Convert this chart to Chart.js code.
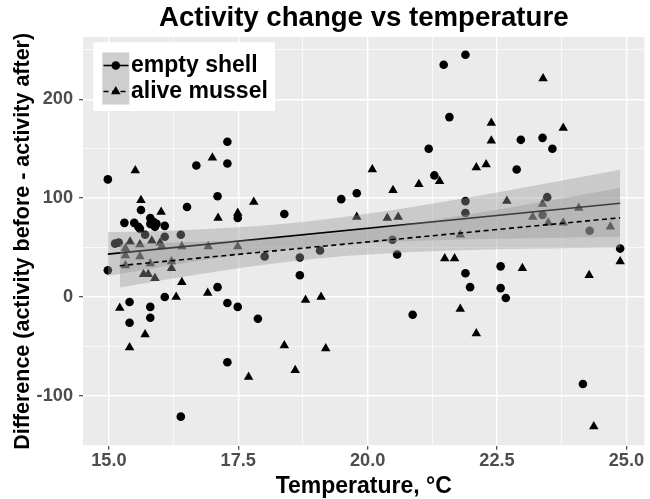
<!DOCTYPE html>
<html><head><meta charset="utf-8">
<script src="https://cdn.jsdelivr.net/npm/chart.js@4.4.1/dist/chart.umd.min.js"></script>
<style>html,body{margin:0;padding:0;background:#fff;}canvas{display:block;}</style>
</head><body>
<canvas id="c" width="650" height="499"></canvas>
<script>
const chartTitle = 'Activity change vs temperature';
const xTitle = 'Temperature, °C';
const yTitle = 'Difference (activity before - activity after)';
const seriesNames = ['empty shell', 'alive mussel'];

// empty shell (circles)
const shellT = [14.98,14.98,15.12,15.19,15.30,15.49,15.57,15.60,15.62,15.80,15.80,15.86,15.92,15.89,16.08,15.70,16.08,16.39,16.51,16.69,17.10,17.29,17.29,17.49,18.01,16.08,17.10,17.29,17.49,17.88,15.40,15.80,15.80,15.40,17.29,16.39,18.39,18.69,18.69,19.08,19.49,19.79,20.48,20.57,20.87,21.18,21.29,21.47,21.58,21.89,21.89,21.89,21.89,21.98,22.57,22.57,22.67,22.88,22.96,23.38,23.57,23.47,23.38,24.29,24.16,24.88];
const shellV = [119,27,54,55,75,75,71,69,88,80,74,76,74,71,72,63,61,63,91,133,102,157,135,80,41,0,10,-6,-10,-22,-5,-10,-21,-26,-66,-121,84,40,22,47,99,105,58,43,-18,150,123,235,182,245,97,85,24,10,31,9,-1,129,159,161,150,101,83,67,-88,49];

// alive mussel (triangles)
const musselT = [15.51,15.62,16.01,17.00,17.11,17.49,17.80,15.41,15.60,15.83,15.99,16.02,16.41,16.92,17.49,15.32,15.60,15.32,15.80,16.21,16.21,15.67,15.76,15.89,16.41,16.91,16.30,15.21,15.70,15.40,17.70,19.79,20.38,20.59,20.09,20.49,20.99,21.39,18.80,19.10,18.39,19.19,18.60,21.49,21.68,21.79,21.79,22.10,22.39,22.39,22.10,22.29,23.39,23.78,22.69,23.38,23.19,24.08,23.49,23.78,24.69,24.88,22.99,24.28,24.37,15.32];
const musselV = [128,98,86,141,80,85,96,56,53,57,55,51,51,51,51,42,41,32,34,36,29,23,23,19,15,4,0,-11,-38,-51,-81,81,80,81,129,108,114,117,-3,0,-49,-52,-74,39,39,-12,63,-37,176,158,131,134,221,171,97,94,81,90,75,75,71,36,29,22,-131,49];

// fitted lines (read at the ends)
const shellFitT = [14.98, 24.88];
const shellFitV = [43.4, 94.8];
const musselFitT = [15.21, 24.88];
const musselFitV = [31.7, 80.2];

// confidence bands (read edges)
const shellBandT = [14.98,16,17,18,19,20,21,22,23,24,24.88];
const shellBandLow = [21.3,30.4,38.6,45.7,51.0,54.6,56.9,58.4,59.4,60.2,60.9];
const shellBandHigh = [65.5,66.8,69.0,72.3,77.4,84.2,92.3,101.2,110.6,120.2,128.7];
const musselBandT = [15.21,16,17,18,19,20,21,22,23,24,24.88];
const musselBandLow = [9.7,16.7,25.1,32.6,38.7,42.9,45.7,47.5,48.7,49.6,50.2];
const musselBandHigh = [53.7,54.7,56.3,58.8,62.7,68.5,75.7,84.1,92.9,102.0,110.2];

const xTicks = [15,16.25,17.5,18.75,20,21.25,22.5,23.75,25];
const xMajor = [15,17.5,20,22.5,25];
const yTicks = [-150,-100,-50,0,50,100,150,200,250];
const yMajor = [-100,0,100,200];

const FONT = "'Liberation Sans', Arial, Helvetica, sans-serif";
const pts = (xs, ys) => xs.map((x, i) => ({x: x, y: ys[i]}));
const bandFill = 'rgba(153,153,153,0.4)';
const isMaj = (arr, c) => c && c.tick && arr.includes(c.tick.value);

const bgPlugin = {
  id: 'bg',
  beforeDraw(chart) {
    const {ctx, chartArea: a} = chart;
    ctx.save();
    ctx.fillStyle = '#ffffff';
    ctx.fillRect(0, 0, chart.width, chart.height);
    ctx.fillStyle = '#EBEBEB';
    ctx.fillRect(a.left, a.top, a.right - a.left, a.bottom - a.top);
    ctx.restore();
  }
};

function drawCircle(ctx, x, y, r) { ctx.beginPath(); ctx.arc(x, y, r, 0, Math.PI * 2); ctx.fill(); }
function drawTri(ctx, x, y, r) {
  ctx.beginPath();
  for (let k = 0; k < 3; k++) {
    const a = k * 2 * Math.PI / 3;
    const px = x + Math.sin(a) * r, py = y - Math.cos(a) * r;
    if (k === 0) ctx.moveTo(px, py); else ctx.lineTo(px, py);
  }
  ctx.closePath(); ctx.fill();
}

const legendPlugin = {
  id: 'ggLegend',
  afterDraw(chart) {
    const ctx = chart.ctx;
    const names = [chart.data.datasets[0].label, chart.data.datasets[1].label];
    ctx.save();
    ctx.fillStyle = '#ffffff';
    ctx.fillRect(93.3, 42.3, 181.7, 68.7);
    const rows = [65.5, 91.5];
    ctx.fillStyle = '#CECECE';
    ctx.fillRect(102.3, 52.5, 27, 52);
    rows.forEach((ry, i) => {
      ctx.strokeStyle = '#000';
      ctx.lineWidth = 1.6;
      ctx.setLineDash(i === 0 ? [] : [5, 3.5]);
      ctx.beginPath(); ctx.moveTo(103.5, ry); ctx.lineTo(128.5, ry); ctx.stroke();
      ctx.setLineDash([]);
      ctx.fillStyle = '#000';
      if (i === 0) drawCircle(ctx, 115.8, ry, 4.3); else drawTri(ctx, 115.8, ry, 5.5);
      ctx.font = 'bold 23px ' + FONT;
      ctx.textBaseline = 'middle';
      ctx.textAlign = 'left';
      ctx.fillText(names[i], 131, ry + 0.5);
    });
    ctx.restore();
  }
};

const datasets = [
  {label: seriesNames[0], data: pts(shellT, shellV), pointStyle: 'circle', pointRadius: 4.3, backgroundColor: '#000', borderWidth: 0, order: 10},
  {label: seriesNames[1], data: pts(musselT, musselV), pointStyle: 'triangle', pointRadius: 5.5, backgroundColor: '#000', borderWidth: 0, order: 9},
  {label: 'shell band low', data: pts(shellBandT, shellBandLow), showLine: true, pointRadius: 0, borderWidth: 0, borderColor: 'transparent', fill: false, cubicInterpolationMode: 'monotone', order: 8},
  {label: 'shell band high', data: pts(shellBandT, shellBandHigh), showLine: true, pointRadius: 0, borderWidth: 0, borderColor: 'transparent', fill: '-1', backgroundColor: bandFill, cubicInterpolationMode: 'monotone', order: 7},
  {label: 'shell fit', data: pts(shellFitT, shellFitV), showLine: true, pointRadius: 0, borderColor: '#000', borderWidth: 1.6, fill: false, order: 6},
  {label: 'mussel band low', data: pts(musselBandT, musselBandLow), showLine: true, pointRadius: 0, borderWidth: 0, borderColor: 'transparent', fill: false, cubicInterpolationMode: 'monotone', order: 5},
  {label: 'mussel band high', data: pts(musselBandT, musselBandHigh), showLine: true, pointRadius: 0, borderWidth: 0, borderColor: 'transparent', fill: '-1', backgroundColor: bandFill, cubicInterpolationMode: 'monotone', order: 4},
  {label: 'mussel fit', data: pts(musselFitT, musselFitV), showLine: true, pointRadius: 0, borderColor: '#000', borderWidth: 1.6, borderDash: [5, 3.5], fill: false, order: 3}
];

new Chart(document.getElementById('c'), {
  type: 'scatter',
  data: {datasets: datasets},
  plugins: [bgPlugin, legendPlugin],
  options: {
    responsive: false,
    animation: false,
    devicePixelRatio: 1,
    layout: {padding: {left: 0, right: 3, top: 0, bottom: 0}},
    plugins: {
      legend: {display: false},
      tooltip: {enabled: false},
      title: {display: true, text: chartTitle, fullSize: false, color: '#000',
        font: {family: FONT, size: 27.6, weight: 'bold', lineHeight: 1.2},
        padding: {top: 1.7, bottom: 2.2}}
    },
    scales: {
      x: {
        type: 'linear', min: 14.5, max: 25.35,
        afterBuildTicks: s => { s.ticks = xTicks.map(v => ({value: v})); },
        afterFit: s => { s.height = 53.3; },
        border: {display: false},
        grid: {color: '#ffffff', lineWidth: c => isMaj(xMajor, c) ? 1.4 : 0.7, tickLength: 4, tickWidth: 1.1,
          tickColor: c => isMaj(xMajor, c) ? '#333333' : 'rgba(0,0,0,0)'},
        ticks: {autoSkip: false, maxRotation: 0, padding: 0, color: '#4D4D4D',
          font: {family: FONT, size: 18.2, weight: 'bold'},
          callback: v => xMajor.includes(v) ? v.toFixed(1) : ''},
        title: {display: true, text: xTitle, color: '#000',
          font: {family: FONT, size: 23, weight: 'bold', lineHeight: 1}, padding: {top: 0, bottom: 0.5}}
      },
      y: {
        type: 'linear', min: -150.4, max: 263,
        afterBuildTicks: s => { s.ticks = yTicks.map(v => ({value: v})); },
        afterFit: s => { s.width = 83; },
        border: {display: false},
        grid: {color: '#ffffff', lineWidth: c => isMaj(yMajor, c) ? 1.4 : 0.7, tickLength: 4, tickWidth: 1.1,
          tickColor: c => isMaj(yMajor, c) ? '#333333' : 'rgba(0,0,0,0)'},
        ticks: {autoSkip: false, padding: 6, color: '#4D4D4D',
          font: {family: FONT, size: 18.2, weight: 'bold'},
          callback: v => yMajor.includes(v) ? String(v) : ''},
        title: {display: true, text: yTitle, color: '#000',
          font: {family: FONT, size: 21.5, weight: 'bold', lineHeight: 1}, padding: {top: 12, bottom: 0}}
      }
    }
  }
});
</script>
</body></html>
